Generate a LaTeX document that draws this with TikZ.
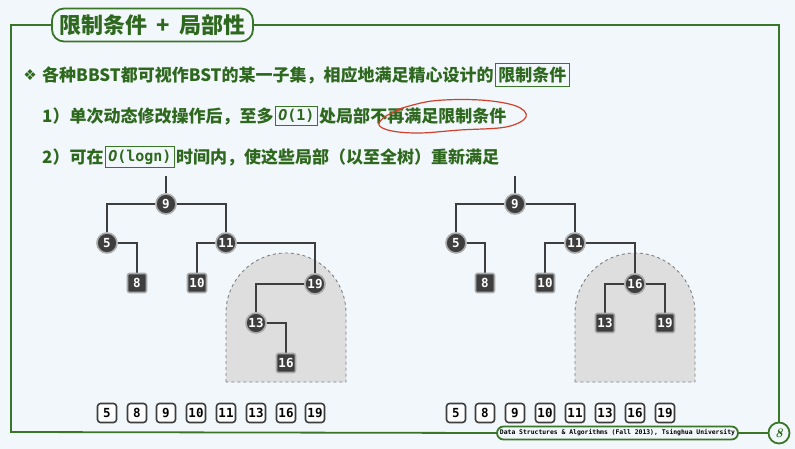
\documentclass[tikz,border=0pt]{standalone}
\usepackage{fontspec}
\newfontfamily\cjk{Noto Sans CJK SC}
\newfontfamily\monof{DejaVu Sans Mono}
\newfontfamily\symf{DejaVu Sans}
\usetikzlibrary{positioning}

\definecolor{bgblue}{RGB}{242,247,251}
\definecolor{framegreen}{RGB}{58,118,40}
\definecolor{textgreen}{RGB}{46,104,30}
\definecolor{nodedark}{RGB}{62,62,62}
\definecolor{halo}{RGB}{170,170,170}
\definecolor{domegray}{RGB}{222,222,222}
\definecolor{penred}{RGB}{205,65,45}

\pgfdeclarelayer{bg}
\pgfdeclarelayer{edges}
\pgfsetlayers{bg,edges,main}

\tikzset{
  inner/.style={circle, fill=nodedark, draw=halo, line width=1.6pt,
    minimum size=20pt, inner sep=0pt, text=white,
    font=\monof\bfseries\fontsize{12.5}{12.5}\selectfont},
  outer/.style={rectangle, rounded corners=2pt, fill=nodedark, draw=halo,
    line width=1.6pt, minimum size=19pt, inner sep=0pt, text=white,
    font=\monof\bfseries\fontsize{12.5}{12.5}\selectfont},
  key/.style={rectangle, rounded corners=3pt, fill=white, draw=nodedark,
    line width=1.6pt, minimum size=19pt, inner sep=1pt,
    font=\monof\bfseries\fontsize{12.5}{12.5}\selectfont},
  edge/.style={draw=nodedark, line width=1.6pt},
  dome/.style={fill=domegray, draw=gray, dashed, line width=0.9pt},
  txt/.style={text=textgreen, inner sep=0pt,
    font=\cjk\bfseries\fontsize{17}{17}\selectfont},
  hl/.style={draw=framegreen, line width=1pt, inner sep=3pt, text=textgreen,
    font=\cjk\bfseries\fontsize{17}{17}\selectfont},
  frame/.style={draw=framegreen, line width=1.8pt},
  pen/.style={draw=penred, line width=1.2pt},
}

\begin{document}
\begin{tikzpicture}[x=1pt,y=-1pt]

  \useasboundingbox (0,0) rectangle (795,449);
  \begin{pgfonlayer}{bg}
    \fill[bgblue] (0,0) rectangle (795,449);
    % Teilbaeume
    \draw[dome] (226,382) -- (226,313) arc[start angle=180, end angle=0, radius=60pt]
      -- (346,382) -- cycle;
    \draw[dome] (575,382) -- (575,313) arc[start angle=180, end angle=0, radius=60pt]
      -- (695,382) -- cycle;
  \end{pgfonlayer}

  % Titel
  \node[frame, fill=bgblue, rounded corners=12pt, minimum width=201pt,
        minimum height=33pt, text=textgreen,
        font=\cjk\bfseries\fontsize{22}{22}\selectfont] (title) at (152.5,25)
        {限制条件\hspace{9pt}+\hspace{9pt}局部性};

  % Fusszeile
  \node[frame, fill=bgblue, rounded corners=6.5pt, minimum width=241pt,
        minimum height=13pt, inner sep=1pt,
        font=\monof\bfseries\fontsize{6.4}{6.4}\selectfont] (foot) at (617.5,433)
        {Data Structures \& Algorithms (Fall 2013), Tsinghua University};
  \node[frame, circle, fill=bgblue, minimum size=21pt, inner sep=0pt,
        text=textgreen, font=\bfseries\itshape\fontsize{13}{13}\selectfont] (pg) at (779,433) {8};

  % Rahmen
  \draw[frame] (title.west) -- (11,25) -- (11,432) -- (foot.west);
  \draw[frame] (foot.east) -- (pg.west);
  \draw[frame] (pg.north) -- (779,25) -- (title.east);

  % Text
  \node[text=textgreen, font=\symf\fontsize{15}{15}\selectfont] (bul) at (30,75) {❖};
  \node[txt, anchor=west] (l1a) at (42,75) {各种BBST都可视作BST的某一子集，相应地满足精心设计的};
  \node[hl, right=1pt of l1a] (l1b) {限制条件};

  \node[txt, anchor=west] (l2a) at (42,116) {1）单次动态修改操作后，至多};
  \node[hl, right=1pt of l2a, font=\monof\bfseries\fontsize{15}{17}\selectfont] (l2b)
        {\itshape O\upshape(1)};
  \node[txt, right=1pt of l2b] (l2c) {处局部};
  \node[txt, right=0pt of l2c] (l2d) {不再满足限制条件};
  % roter Kringel
  \draw[pen] plot[smooth, tension=0.6] coordinates {(396,110) (432,101) (480,100)
    (516,106) (526,117) (506,127) (460,130) (420,133) (392,131) (379,125)
    (386,116) (404,108)};

  \node[txt, anchor=west] (l3a) at (42,157) {2）可在};
  \node[hl, right=1pt of l3a, font=\monof\bfseries\fontsize{15}{17}\selectfont] (l3b)
        {\itshape O\upshape(logn)};
  \node[txt, right=1pt of l3b] (l3c) {时间内，使这些局部（以至全树）重新满足};

  % linker Baum
  \node[inner] (a9) at (166,204) {9};
  \node[inner] (a5) at (107,243) {5};
  \node[inner] (a11) at (226,243) {11};
  \node[outer] (a8) at (137,283) {8};
  \node[outer] (a10) at (197,283) {10};
  \node[inner] (a19) at (315,284) {19};
  \node[inner] (a13) at (256,323) {13};
  \node[outer] (a16) at (286,363) {16};
  \coordinate (aroot) at (166,176);
  \begin{pgfonlayer}{edges}
    \draw[edge] (aroot) -- (a9);
    \draw[edge] (a9) -| (a5);
    \draw[edge] (a9) -| (a11);
    \draw[edge] (a5) -| (a8);
    \draw[edge] (a11) -| (a10);
    \draw[edge] (a11) -| (a19);
    \draw[edge] (a19) -| (a13);
    \draw[edge] (a13) -| (a16);
  \end{pgfonlayer}

  % rechter Baum
  \node[inner] (b9) at (515,204) {9};
  \node[inner] (b5) at (456,243) {5};
  \node[inner] (b11) at (575,243) {11};
  \node[outer] (b8) at (485,283) {8};
  \node[outer] (b10) at (545,283) {10};
  \node[inner] (b16) at (635,284) {16};
  \node[outer] (b13) at (605,323) {13};
  \node[outer] (b19) at (665,323) {19};
  \coordinate (broot) at (515,176);
  \begin{pgfonlayer}{edges}
    \draw[edge] (broot) -- (b9);
    \draw[edge] (b9) -| (b5);
    \draw[edge] (b9) -| (b11);
    \draw[edge] (b5) -| (b8);
    \draw[edge] (b11) -| (b10);
    \draw[edge] (b11) -| (b16);
    \draw[edge] (b16) -| (b13);
    \draw[edge] (b16) -| (b19);
  \end{pgfonlayer}

  % sortierte Folgen
  \foreach \k/\x in {5/107,8/137,9/166,10/196,11/226,13/256,16/286,19/315}
    \node[key] (ka\k) at (\x,413) {\k};
  \foreach \k/\x in {5/456,8/485,9/515,10/545,11/575,13/605,16/635,19/665}
    \node[key] (kb\k) at (\x,413) {\k};

\end{tikzpicture}
\end{document}
